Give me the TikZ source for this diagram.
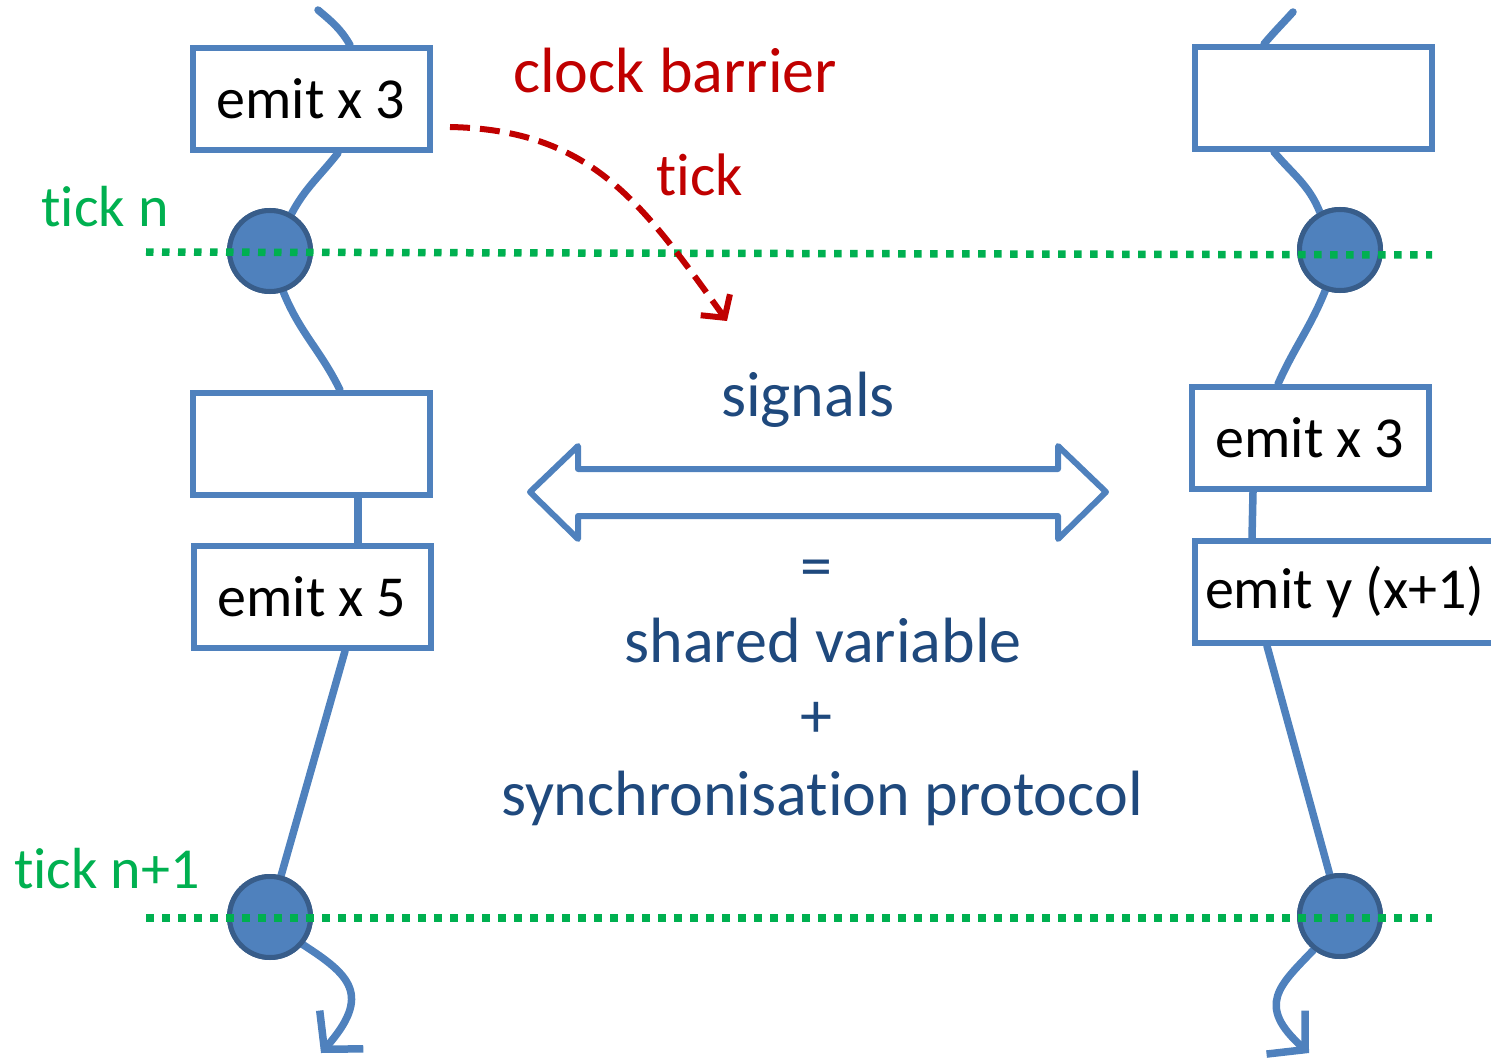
\documentclass[tikz,border=0pt]{standalone}
\usepackage{fontspec}
\setmainfont{Carlito}[Ligatures=NoCommon]
\usepackage{xcolor}
\usetikzlibrary{arrows.meta,positioning}

\definecolor{laneblue}{HTML}{4F81BD}
\definecolor{dotedge}{HTML}{385D8A}
\definecolor{tickgreen}{HTML}{00B050}
\definecolor{barred}{HTML}{C00000}
\definecolor{sigblue}{HTML}{1F497D}

\begin{document}
\begin{tikzpicture}[
  x=1pt, y=-1pt,
  reaction/.style={draw=laneblue, line width=6pt, fill=white, minimum width=237pt, minimum height=102pt, inner sep=0pt, font=\fontsize{58}{64}\selectfont},
  instant/.style={circle, draw=dotedge, line width=5pt, fill=laneblue, minimum size=81pt, inner sep=0pt},
  lane/.style={draw=laneblue, line width=7.5pt, line cap=round},
  lanearr/.style={lane, -{Straight Barb[length=26pt, width=58pt, line width=7.5pt]}},
  tickline/.style={draw=tickgreen, line width=7.5pt, dash pattern=on 7.5pt off 8.5pt},
  ticklbl/.style={text=tickgreen, font=\fontsize{58}{64}\selectfont},
  barrier/.style={draw=barred, line width=6pt, dash pattern=on 20pt off 10pt, -{Straight Barb[length=16pt, width=36pt, line width=6pt]}},
  redlbl/.style={text=barred, font=\fontsize{64}{70}\selectfont},
  siglbl/.style={text=sigblue, font=\fontsize{64}{70}\selectfont}
]
  \useasboundingbox (0,0) rectangle (1491,1059);

  % Left thread
  \node[reaction] (lemitA) at (311,99) {emit x 3};
  \node[reaction] (lempty) at (311,444) {};
  \node[reaction] (lemitB) at (312,597) {emit x 5};
  \node[instant] (ltickA) at (270,251) {};
  \node[instant] (ltickB) at (270,917) {};
  \coordinate (lstart) at (318,10);
  \coordinate (lend) at (321,1053);

  % Right thread
  \node[reaction] (rempty) at (1313,98) {};
  \node[reaction] (remitA) at (1310,438) {emit x 3};
  \node[reaction, anchor=west, inner xsep=10pt, minimum width=0pt] (remitB) at (1192,592) {\makebox[300pt][l]{emit y (x+1)}};
  \node[instant] (rtickA) at (1340,250) {};
  \node[instant] (rtickB) at (1340,916) {};
  \coordinate (rstart) at (1293,12);
  \coordinate (rend) at (1309,1053);

  % Thread lines
  \draw[lane] (lstart) to[out=-40, in=120] ([xshift=39pt]lemitA.north);
  \draw[lane] ([xshift=27pt]lemitA.south) to[out=-128, in=62] (ltickA.60);
  \draw[lane] (ltickA.-72) to[out=-68, in=116] ([xshift=29pt]lempty.north);
  \draw[lane] ([xshift=47pt]lempty.south) -- ([xshift=46pt]lemitB.north);
  \draw[lane] ([xshift=33pt]lemitB.south) -- (ltickB.75);
  \draw[lanearr] (ltickB.-40) .. controls (350,975) and (372,995) .. (lend);
  \draw[lane] (rstart) to[out=-132, in=50] ([xshift=-49pt]rempty.north);
  \draw[lane] ([xshift=-39pt]rempty.south) to[out=-50, in=112] (rtickA.118);
  \draw[lane] (rtickA.-110) to[out=-112, in=66] ([xshift=-32pt]remitA.north);
  \draw[lane] ([xshift=-57pt]remitA.south) -- ([xshift=60pt]remitB.north west);
  \draw[lane] ([xshift=75pt]remitB.south west) -- (rtickB.104);
  \draw[lanearr] (rtickB.-128) .. controls (1280,985) and (1255,1005) .. (rend);

  % redraw dots over the lines
  \node[instant] at (ltickA) {};
  \node[instant] at (ltickB) {};
  \node[instant] at (rtickA) {};
  \node[instant] at (rtickB) {};

  % Ticks
  \coordinate (tnA) at (146,252);
  \coordinate (tnAend) at (1432,255);
  \coordinate (tnB) at (146,918);
  \coordinate (tnBend) at (1432,918);
  \draw[tickline] (tnA) -- (tnAend);
  \draw[tickline] (tnB) -- (tnBend);
  \node[ticklbl] (tickn) at (105,207) {tick n};
  \node[ticklbl] (ticknn) at (107,869) {tick n+1};

  % Clock barrier
  \node[redlbl] (clockbar) at (675,71) {clock barrier};
  \node[redlbl, font=\fontsize{60}{66}\selectfont] (ticklbl) at (700,175) {tick};
  \coordinate (barstart) at (450,127);
  \coordinate (barend) at (727,321);
  \draw[barrier] (barstart) .. controls (590,130) and (640,200) .. (barend);

  % Signals
  \node[siglbl] (signals) at (808,400) {signals};
  \draw[laneblue, line width=6pt, line join=round]
    (530,492) -- (578,446) -- (578,469) -- (1058,469) -- (1058,446) -- (1106,492)
    -- (1058,539) -- (1058,516) -- (578,516) -- (578,539) -- cycle;
  \node[siglbl] (equals) at (816,574) {=};
  \node[siglbl] (shared) at (823,641) {shared variable};
  \node[siglbl] (plus) at (816,720) {+};
  \node[siglbl] (protocol) at (822,798) {synchronisation protocol};
\end{tikzpicture}
\end{document}
